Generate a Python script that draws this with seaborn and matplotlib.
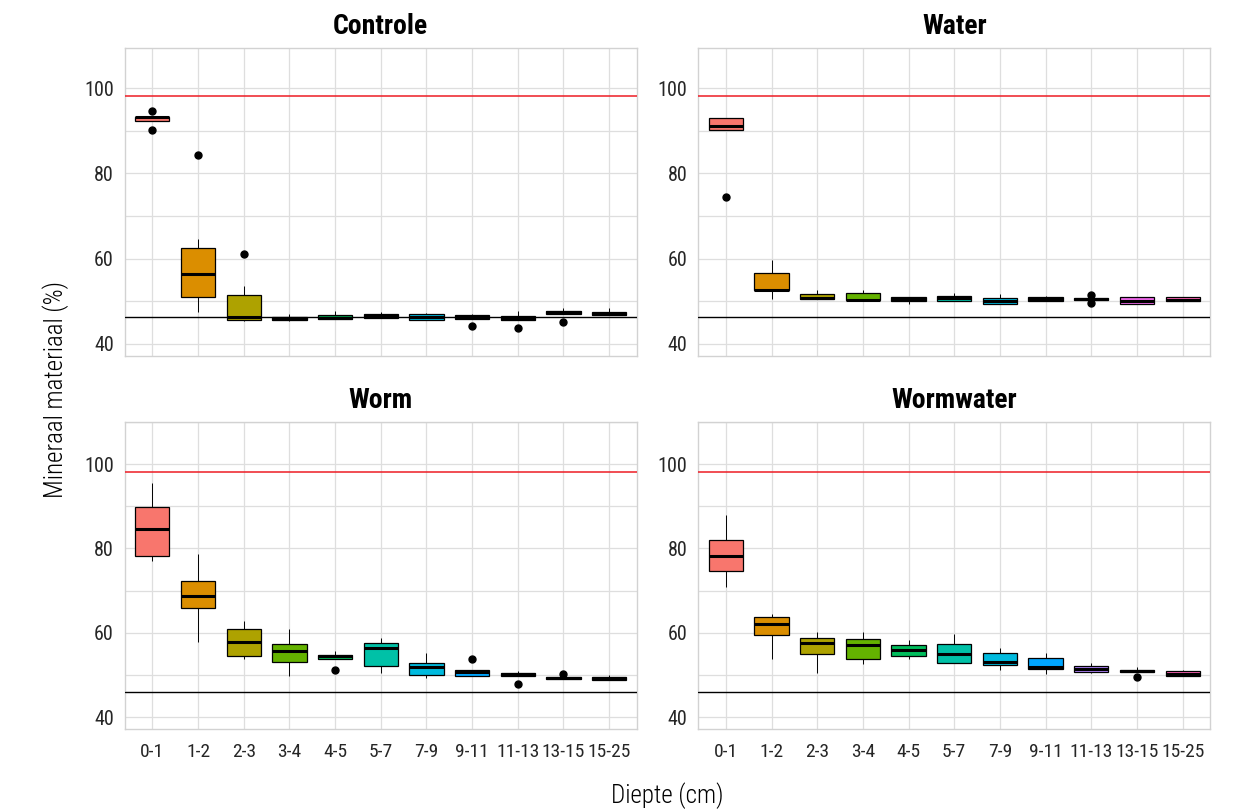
import matplotlib
matplotlib.use("Agg")
import matplotlib.pyplot as plt
from matplotlib.ticker import FixedLocator
import seaborn as sns
import pandas as pd

depths = ["0-1", "1-2", "2-3", "3-4", "4-5", "5-7", "7-9", "9-11", "11-13", "13-15", "15-25"]
palette = ["#F8766D", "#DB8E00", "#AEA200", "#64B200", "#00BD5C", "#00C1A7",
           "#00BADE", "#00A6FF", "#B385FF", "#EF67EB", "#FF63B6"]

# box statistics: whisker low, Q1, median, Q3, whisker high, outliers
controle_low = [92.4, 47.4, 45.3, 45.3, 45.8, 46.1, 45.7, 45.8, 45.5, 47.1, 46.8]
controle_q1 = [92.4, 51.1, 45.6, 45.6, 45.8, 46.1, 45.7, 45.8, 45.5, 47.1, 46.8]
controle_med = [93.2, 56.3, 46.2, 45.8, 46.0, 46.5, 46.3, 46.2, 45.9, 47.5, 47.1]
controle_q3 = [93.2, 62.5, 51.4, 46.4, 46.7, 46.9, 46.9, 46.7, 46.5, 47.8, 47.4]
controle_high = [93.2, 64.5, 53.5, 47.1, 47.6, 47.4, 47.2, 47.1, 47.8, 48.3, 48.3]
controle_out = [[90.3, 94.7], [84.35], [61.1], [], [], [], [], [44.1], [43.6], [45.1], []]

water_low = [90.2, 50.5, 50.6, 50.2, 49.4, 50.1, 49.4, 50.0, 50.25, 49.4, 50.0]
water_q1 = [90.2, 52.7, 50.6, 50.2, 50.1, 50.1, 49.4, 50.1, 50.25, 49.4, 50.0]
water_med = [91.2, 52.7, 50.7, 50.3, 50.5, 50.7, 50.0, 50.6, 50.45, 50.0, 50.2]
water_q3 = [93.1, 56.7, 51.7, 52.0, 51.0, 51.3, 50.8, 51.1, 50.65, 51.1, 51.1]
water_high = [93.1, 59.6, 52.7, 52.6, 51.0, 51.9, 51.6, 51.2, 50.65, 51.1, 51.1]
water_out = [[74.5], [], [], [], [], [], [], [], [49.55, 51.35], [], []]

worm_low = [77.0, 57.8, 53.8, 49.8, 53.9, 50.6, 49.35, 49.8, 49.8, 49.1, 48.8]
worm_q1 = [78.3, 65.8, 54.45, 53.2, 53.9, 52.2, 49.9, 49.8, 49.8, 49.1, 48.8]
worm_med = [84.5, 68.7, 57.8, 55.8, 54.4, 56.45, 52.0, 50.8, 50.3, 49.3, 49.2]
worm_q3 = [89.9, 72.25, 60.9, 57.25, 54.85, 57.7, 52.8, 51.2, 50.6, 49.5, 49.65]
worm_high = [95.45, 78.6, 62.9, 60.9, 55.7, 58.8, 55.2, 51.2, 51.0, 49.5, 50.0]
worm_out = [[], [], [], [], [51.1], [], [], [53.7], [48.0], [50.3], []]

wormwater_low = [70.9, 53.8, 50.6, 52.6, 53.8, 52.8, 51.2, 50.2, 50.4, 50.8, 49.7]
wormwater_q1 = [74.6, 59.6, 54.9, 53.7, 54.6, 52.8, 52.4, 51.4, 50.8, 50.8, 49.7]
wormwater_med = [78.1, 62.2, 57.7, 57.1, 56.0, 54.9, 53.0, 52.0, 51.4, 51.05, 50.3]
wormwater_q3 = [82.05, 63.8, 58.9, 58.5, 57.2, 57.3, 55.2, 54.0, 52.15, 51.3, 51.0]
wormwater_high = [87.9, 64.4, 60.1, 60.1, 58.4, 59.7, 56.5, 55.3, 52.8, 51.8, 51.1]
wormwater_out = [[], [], [], [], [], [], [], [], [], [49.5], []]

panels = ["Controle", "Water", "Worm", "Wormwater"]
red_line = [98.2, 98.2, 98.0, 98.0]
black_line = [46.4, 46.4, 45.9, 45.9]
ylims = [(37.18, 109.4), (37.18, 109.4), (37.15, 110.0), (37.15, 110.0)]

stats = {
    "Controle": (controle_low, controle_q1, controle_med, controle_q3, controle_high, controle_out),
    "Water": (water_low, water_q1, water_med, water_q3, water_high, water_out),
    "Worm": (worm_low, worm_q1, worm_med, worm_q3, worm_high, worm_out),
    "Wormwater": (wormwater_low, wormwater_q1, wormwater_med, wormwater_q3, wormwater_high, wormwater_out),
}


def box_sample(lo, q1, med, q3, hi, out):
    # nine values whose quartiles (linear) are exactly q1 / med / q3
    vals = [lo, lo, q1, med, med, med, q3, hi, hi]
    low = sorted(v for v in out if v < med)
    high = sorted(v for v in out if v > med)
    vals[:len(low)] = low
    if high:
        vals[len(vals) - len(high):] = high
    return vals


rows = []
for name in panels:
    lo, q1, med, q3, hi, out = stats[name]
    for i, d in enumerate(depths):
        for v in box_sample(lo[i], q1[i], med[i], q3[i], hi[i], out[i]):
            rows.append({"panel": name, "depth": d, "value": v})
df = pd.DataFrame(rows)

sns.set_theme(style="white")
plt.rcParams["font.family"] = ["Roboto Condensed", "Roboto", "DejaVu Sans"]

fig, axes = plt.subplots(2, 2, figsize=(12.36, 8.09), dpi=100)
fig.subplots_adjust(left=0.1011, right=0.979, top=0.9403, bottom=0.0985, wspace=0.121, hspace=0.2146)

for k, name in enumerate(panels):
    ax = axes.flat[k]
    sub = df[df["panel"] == name]
    sns.boxplot(data=sub, x="depth", y="value", hue="depth", order=depths, hue_order=depths,
                palette=palette, legend=False, width=0.75, linecolor="black", linewidth=0.9,
                fliersize=5, showcaps=False, saturation=1,
                flierprops=dict(marker="o", markerfacecolor="black", markeredgecolor="black"),
                medianprops=dict(linewidth=2.2, color="black"),
                whiskerprops=dict(linewidth=0.7), ax=ax)
    ax.axhline(red_line[k], color="#EE1C25", linewidth=1.1, zorder=4)
    ax.axhline(black_line[k], color="black", linewidth=1.0, zorder=4)

    ax.set_xlim(-0.6, 10.6)
    ax.set_ylim(*ylims[k])
    ax.set_yticks([40, 60, 80, 100])
    ax.yaxis.set_minor_locator(FixedLocator([50, 70, 90, 110]))
    ax.grid(True, which="both", axis="both", color="#DEDEDE", linewidth=0.9)
    ax.set_axisbelow(True)
    for s in ax.spines.values():
        s.set_color("#D2D2D2")
        s.set_linewidth(1.0)
    ax.tick_params(axis="both", which="both", length=0, colors="#262626")
    ax.tick_params(axis="y", labelsize=14.5, pad=8)
    ax.tick_params(axis="x", labelsize=14, pad=10)
    ax.set_xlabel("")
    ax.set_ylabel("")
    if k < 2:
        ax.set_xticklabels([])
    ax.set_title(name, fontsize=20, fontweight="heavy", color="black", pad=10)

fig.text(0.045, 0.519, "Mineraal materiaal (%)", rotation=90, ha="center", va="center",
         fontsize=18, fontweight="light", color="black")
fig.text(0.54, 0.017, "Diepte (cm)", ha="center", va="center", fontsize=18,
         fontweight="light", color="black")

fig.savefig("out.png", dpi=100)
